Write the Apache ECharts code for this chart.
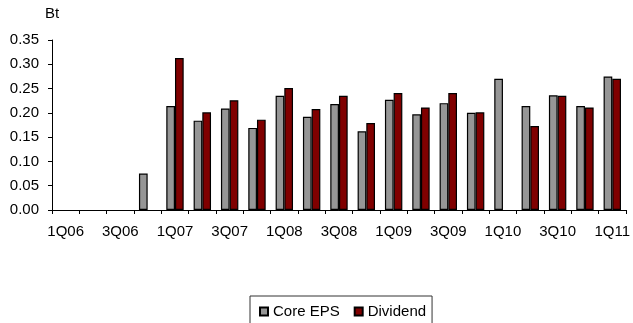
<!DOCTYPE html>
<html>
<head>
<meta charset="utf-8">
<title>Core EPS and Dividend</title>
<script src="https://cdn.jsdelivr.net/npm/echarts@6/dist/echarts.min.js"></script>
<style>
  html, body { margin: 0; padding: 0; background: #fff; }
  #chart { width: 633px; height: 323px; }
</style>
</head>
<body>
<div id="chart"></div>
<script>
// Quarterly periods, 1Q06 through 1Q11
const quarters = [
  '1Q06', '2Q06', '3Q06', '4Q06',
  '1Q07', '2Q07', '3Q07', '4Q07',
  '1Q08', '2Q08', '3Q08', '4Q08',
  '1Q09', '2Q09', '3Q09', '4Q09',
  '1Q10', '2Q10', '3Q10', '4Q10',
  '1Q11'
];

// Core earnings per share (Bt)
const coreEps = [
  null, null, null, 0.075,
  0.214, 0.184, 0.209, 0.169,
  0.235, 0.192, 0.218, 0.162,
  0.227, 0.197, 0.220, 0.200,
  0.270, 0.214, 0.236, 0.214,
  0.275
];

// Dividend per share (Bt)
const dividend = [
  null, null, null, null,
  0.313, 0.201, 0.226, 0.186,
  0.251, 0.208, 0.235, 0.179,
  0.241, 0.211, 0.241, 0.201,
  null, 0.173, 0.235, 0.211,
  0.270
];

// Value axis ticks
const yMin = 0;
const yMax = 0.35;
const yStep = 0.05;

const FONT = 'Liberation Sans, Arial, sans-serif';

const chart = echarts.init(document.getElementById('chart'), null, { renderer: 'canvas' });

chart.setOption({
  animation: false,
  backgroundColor: '#ffffff',
  textStyle: { fontFamily: FONT, color: '#000' },
  grid: { left: 52, right: 4, top: 40, bottom: 113, containLabel: false },
  xAxis: {
    type: 'category',
    data: quarters,
    boundaryGap: true,
    axisLine: { show: true, lineStyle: { color: '#000', width: 1 } },
    axisTick: { show: true, interval: 0, length: 4, lineStyle: { color: '#000' } },
    axisLabel: { interval: 1, margin: 14, fontSize: 15, fontFamily: FONT, color: '#000' },
    splitLine: { show: false }
  },
  yAxis: {
    type: 'value',
    min: yMin,
    max: yMax,
    interval: yStep,
    name: 'Bt',
    nameLocation: 'end',
    nameGap: 19,
    nameTextStyle: { fontSize: 15, fontFamily: FONT, color: '#000', align: 'center' },
    axisLine: { show: true, lineStyle: { color: '#000', width: 1 } },
    axisTick: { show: true, length: 4, lineStyle: { color: '#000' } },
    axisLabel: {
      margin: 13,
      fontSize: 15,
      fontFamily: FONT,
      color: '#000',
      formatter: v => v.toFixed(2)
    },
    splitLine: { show: false }
  },
  legend: {
    left: 250,
    top: 296,
    padding: [8, 6, 10, 9],
    borderColor: '#333',
    borderWidth: 1,
    itemWidth: 8,
    itemHeight: 8,
    itemGap: 14,
    icon: 'rect',
    textStyle: { fontSize: 15, fontFamily: FONT, color: '#000' },
    data: ['Core EPS', 'Dividend']
  },
  series: [
    {
      name: 'Core EPS',
      type: 'bar',
      data: coreEps,
      barGap: '0%',
      barWidth: 8.7,
      itemStyle: { color: '#969696', borderColor: '#000', borderWidth: 1.2 }
    },
    {
      name: 'Dividend',
      type: 'bar',
      data: dividend,
      barGap: '0%',
      barWidth: 8.7,
      itemStyle: { color: '#800000', borderColor: '#000', borderWidth: 1.2 }
    }
  ]
});
</script>
</body>
</html>
